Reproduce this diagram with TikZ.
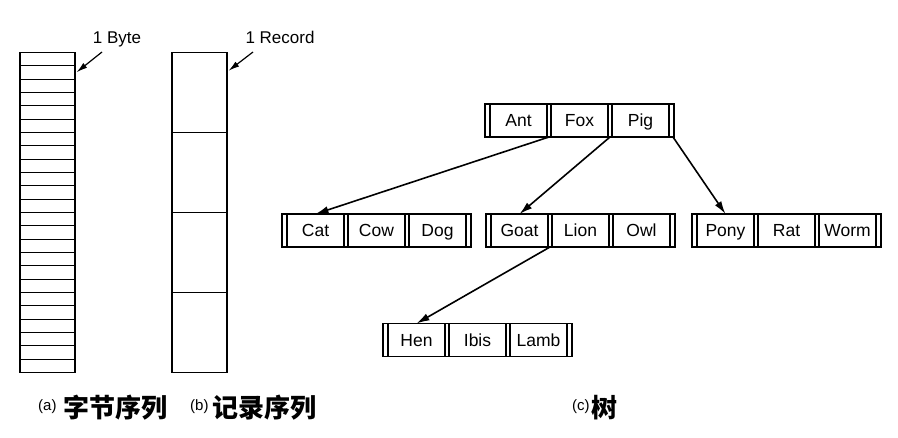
\documentclass[tikz,border=0pt]{standalone}
\usepackage{fontspec}
\setmainfont{Liberation Sans}
\newfontfamily\cjk{Noto Sans CJK SC}
\usetikzlibrary{arrows.meta, positioning, calc}
\tikzset{
    % one byte / one record of the flat files
    bytecell/.style={draw, line width=0.9pt, minimum width=55pt, minimum height=13.333pt,
                     inner sep=0pt, outer sep=0pt},
    reccell/.style={draw, line width=1.5pt, minimum width=55pt, minimum height=80pt,
                    inner sep=0pt, outer sep=0pt},
    % a key inside a tree block
    keybox/.style={draw, line width=1.5pt, minimum width=57pt, minimum height=33pt,
                   inner sep=0pt, outer sep=0pt, text height=12.5pt, text depth=0pt,
                   font=\fontsize{17.5}{19}\selectfont},
    % child pointers and callout arrows
    ptr/.style={-{Latex[length=13pt, width=7.5pt]}, line width=1.6pt},
    callout/.style={-{Latex[length=11pt, width=6pt]}, line width=1.2pt},
    tag/.style={font=\fontsize{17}{19}\selectfont, inner sep=0pt, anchor=base},
    % sub-captions
    subcap/.style={font=\fontsize{15}{15}\selectfont, inner sep=0pt, anchor=base west},
    captext/.style={font=\fontsize{26}{26}\selectfont\cjk\bfseries, inner sep=0pt, anchor=base west},
}
% a tree block: prefix, centre of first key, three keys
\newcommand{\keyrow}[5]{%
    \node[keybox] (#1a) at (#2) {#3};
    \node[keybox, right=4pt of #1a] (#1b) {#4};
    \node[keybox, right=4pt of #1b] (#1c) {#5};
    \draw[line width=1.5pt] ($(#1a.north west)+(-5,0)$) rectangle ($(#1c.south east)+(5,0)$);
}

\begin{document}
\begin{tikzpicture}[x=1pt, y=-1pt]
    \useasboundingbox (0,0) rectangle (898,438);

    % ===== (a) byte sequence =====
    \foreach \i in {1,...,24}
        \node[bytecell] (byte\i) at (47.5, {52.3+13.333*(\i-0.5)}) {};
    \draw[line width=1.5pt] (byte1.north west) rectangle (byte24.south east);
    \node[tag] (bytetag) at (117,43.3) {1 Byte};
    \coordinate (bytetail) at (102,52);
    \draw[callout] (bytetail) -- ([xshift=1.5pt]byte2.east);

    % ===== (b) record sequence =====
    \foreach \i in {1,...,4}
        \node[reccell] (rec\i) at (199.5, {52.3+80*(\i-0.5)}) {};
    \node[tag] (rectag) at (280,43.3) {1 Record};
    \coordinate (rectail) at (253,52);
    \draw[callout] (rectail) -- ($(rec1.north east)+(1.5,18.5)$);

    % ===== (c) tree =====
    \keyrow{root}{518.5,120.5}{Ant}{Fox}{Pig}
    \keyrow{cat}{315.5,230.5}{Cat}{Cow}{Dog}
    \keyrow{goat}{519.5,230.5}{Goat}{Lion}{Owl}
    \keyrow{pony}{725.5,230.5}{Pony}{Rat}{Worm}
    \keyrow{hen}{416.5,340}{Hen}{Ibis}{Lamb}

    \draw[ptr] ($(roota.south east)!0.5!(rootb.south west)$) -- (cata.north);
    \draw[ptr] ($(rootb.south east)!0.5!(rootc.south west)$) -- (goata.north);
    \draw[ptr] ($(rootc.south east)+(4,0)$) -- (ponya.north);
    \draw[ptr] ($(goata.south east)!0.5!(goatb.south west)$) -- (hena.north);

    % ===== captions =====
    \node[subcap] (capa) at (38,411) {(a)};
    \node[captext] (capatext) at (63,418) {字节序列};
    \node[subcap] (capb) at (190,411) {(b)};
    \node[captext] (capbtext) at (212,418) {记录序列};
    \node[subcap] (capc) at (572,411) {(c)};
    \node[captext] (capctext) at (591,418) {树};
\end{tikzpicture}
\end{document}
